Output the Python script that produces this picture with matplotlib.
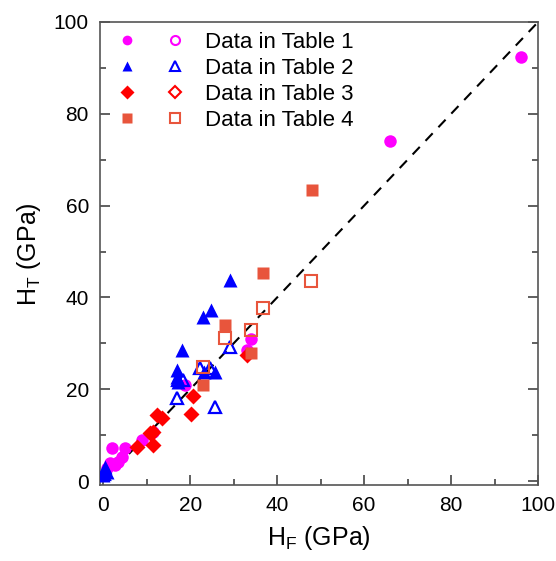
import matplotlib
matplotlib.use("Agg")
import matplotlib.pyplot as plt
from matplotlib.legend_handler import HandlerTuple

plt.rcParams['font.family'] = ['Liberation Sans', 'DejaVu Sans']

# Table 1 (filled circles)
t1_x = [96, 66, 34, 33, 18.8, 11.4, 8.9, 2.1, 5, 4.3, 3.4, 1.6, 1, 2.7]
t1_y = [92.4, 74.1, 30.9, 28.5, 20.9, 10.7, 8.9, 7.2, 7.2, 5.2, 4.1, 3.9, 2.8, 3.5]

# Table 2 (triangles)
t2_x = [29.1, 24.9, 22.9, 18.1, 17, 17, 17.3, 23.3, 25.6, 0.5, 0, 0.8]
t2_y = [43.8, 37.3, 35.7, 28.5, 24.2, 22.7, 21.5, 23.8, 23.8, 3, 1.3, 2]
t2o_x = [25.6, 17, 17.2, 18.3, 29.1, 22.2, 24.5, 0.3]
t2o_y = [16.1, 18.1, 22, 22, 29.2, 24.6, 24.6, 1.5]

# Table 3 (diamonds)
t3_x = [33, 20.6, 20.1, 12.4, 13.5, 11.4, 10.8, 11.4, 7.8]
t3_y = [27.5, 18.5, 14.6, 14.4, 13.7, 10.7, 10.5, 7.8, 7.4]

# Table 4 (squares)
t4_x = [48, 36.8, 27.9, 33.9, 22.9]
t4_y = [63.4, 45.3, 34, 27.9, 20.9]
t4o_x = [47.8, 36.8, 33.9, 27.9, 22.9]
t4o_y = [43.6, 37.7, 32.9, 31.2, 24.8]

labels = ['Data in Table 1', 'Data in Table 2', 'Data in Table 3', 'Data in Table 4']

c1, c2, c3, c4 = '#ff00ff', '#0000ff', '#ff0000', '#e8553c'

fig = plt.figure(figsize=(5.56, 5.61), dpi=100)
ax = fig.add_axes([0.18, 0.135, 0.788, 0.826])

ax.plot([0, 100], [0, 100], color='black', ls=(0, (5, 4)), lw=1.5, zorder=1)

ax.plot(t1_x, t1_y, 'o', color=c1, ms=9, mec='none', zorder=3)
ax.plot(t2_x, t2_y, '^', color=c2, ms=10, mec='none', zorder=3)
ax.plot(t2o_x, t2o_y, '^', mfc='none', mec=c2, mew=1.6, ms=9, zorder=3)
ax.plot(t3_x, t3_y, 'D', color=c3, ms=8, mec='none', zorder=3)
ax.plot(t4_x, t4_y, 's', color=c4, ms=8, mec='none', zorder=3)
ax.plot(t4o_x, t4o_y, 's', mfc='none', mec=c4, mew=1.5, ms=8, zorder=3)

ax.set_xlim(-0.7, 100)
ax.set_ylim(-0.9, 100)
ax.set_xticks([0, 20, 40, 60, 80, 100])
ax.set_yticks([0, 20, 40, 60, 80, 100])
ax.set_xticks(range(10, 100, 20), minor=True)
ax.set_yticks(range(10, 100, 20), minor=True)
ax.tick_params(which='both', direction='in', left=True, bottom=True, right=True, top=False,
               colors='#444444', labelcolor='black', labelsize=15, width=1.2)
ax.tick_params(which='major', length=7, pad=8)
ax.tick_params(which='minor', length=4)
for s in ax.spines.values():
    s.set_color('#555555')
    s.set_linewidth(1.2)

ax.set_xlabel(r'H$_\mathregular{F}$ (GPa)', fontsize=18, labelpad=6)
ax.set_ylabel(r'H$_\mathregular{T}$ (GPa)', fontsize=18, labelpad=8)

# legend: filled and open symbol side by side
mk = ['o', '^', 'D', 's']
cols = [c1, c2, c3, c4]
handles = []
for m, c in zip(mk, cols):
    f, = ax.plot([], [], m, color=c, ms=7, mec='none')
    o, = ax.plot([], [], m, mfc='none', mec=c, mew=1.5, ms=6.5)
    handles.append((f, o))
ax.legend(handles, labels, handler_map={tuple: HandlerTuple(ndivide=None, pad=0)},
          loc='upper left', bbox_to_anchor=(0.0, 0.985), frameon=False, fontsize=16,
          handlelength=4.3, handletextpad=0.27, labelspacing=0.22,
          borderpad=0.1, borderaxespad=0.05)

fig.savefig('out.png', dpi=100)
